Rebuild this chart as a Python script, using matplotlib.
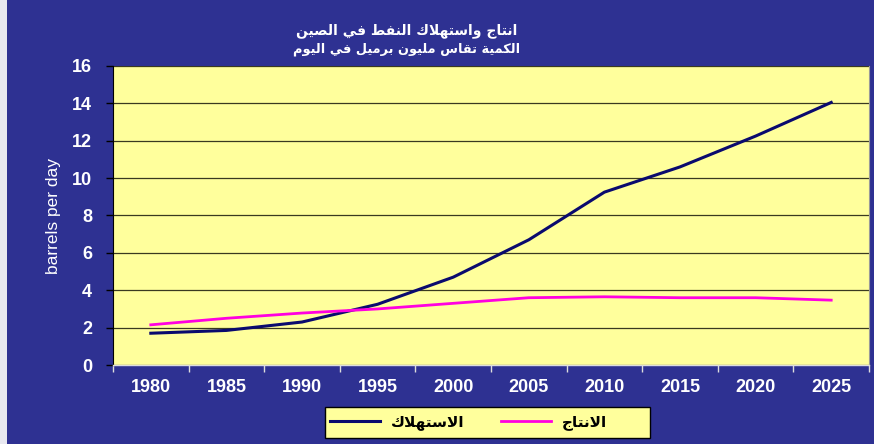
import matplotlib
matplotlib.use('Agg')
import matplotlib.pyplot as plt
from matplotlib.patches import Rectangle

# Data (million barrels per day)
years = ['1980', '1985', '1990', '1995', '2000', '2005', '2010', '2015', '2020', '2025']
consumption = [1.7, 1.85, 2.3, 3.25, 4.7, 6.7, 9.25, 10.6, 12.25, 14.05]
production = [2.15, 2.5, 2.78, 3.0, 3.3, 3.6, 3.65, 3.6, 3.6, 3.47]
y_ticks = [0, 2, 4, 6, 8, 10, 12, 14, 16]

title_line1 = 'انتاج واستهلاك النفط في الصين'
title_line2 = 'الكمية تقاس مليون برميل في اليوم'
label_consumption = 'الاستهلاك'
label_production = 'الانتاج'

BG = '#2E3192'
YELLOW = '#FFFF9C'

# minimal Arabic shaping: (isolated, final, initial, medial)
FORMS = {
    'ا': (0xFE8D, 0xFE8E, None, None),
    'ب': (0xFE8F, 0xFE90, 0xFE91, 0xFE92),
    'ة': (0xFE93, 0xFE94, None, None),
    'ت': (0xFE95, 0xFE96, 0xFE97, 0xFE98),
    'ج': (0xFE9D, 0xFE9E, 0xFE9F, 0xFEA0),
    'ر': (0xFEAD, 0xFEAE, None, None),
    'س': (0xFEB1, 0xFEB2, 0xFEB3, 0xFEB4),
    'ص': (0xFEB9, 0xFEBA, 0xFEBB, 0xFEBC),
    'ط': (0xFEC1, 0xFEC2, 0xFEC3, 0xFEC4),
    'ف': (0xFED1, 0xFED2, 0xFED3, 0xFED4),
    'ق': (0xFED5, 0xFED6, 0xFED7, 0xFED8),
    'ك': (0xFED9, 0xFEDA, 0xFEDB, 0xFEDC),
    'ل': (0xFEDD, 0xFEDE, 0xFEDF, 0xFEE0),
    'م': (0xFEE1, 0xFEE2, 0xFEE3, 0xFEE4),
    'ن': (0xFEE5, 0xFEE6, 0xFEE7, 0xFEE8),
    'ه': (0xFEE9, 0xFEEA, 0xFEEB, 0xFEEC),
    'و': (0xFEED, 0xFEEE, None, None),
    'ي': (0xFEF1, 0xFEF2, 0xFEF3, 0xFEF4),
}


def shape(text):
    out = []
    i = 0
    n = len(text)
    while i < n:
        c = text[i]
        if c not in FORMS:
            out.append(c)
            i += 1
            continue
        prev = text[i - 1] if i > 0 else ''
        joins_prev = prev in FORMS and FORMS[prev][2] is not None
        # lam-alef ligature
        if c == 'ل' and i + 1 < n and text[i + 1] == 'ا':
            out.append(chr(0xFEFC if joins_prev else 0xFEFB))
            i += 2
            continue
        nxt = text[i + 1] if i + 1 < n else ''
        joins_next = FORMS[c][2] is not None and nxt in FORMS
        iso, fin, ini, med = FORMS[c]
        if joins_prev and joins_next:
            code = med
        elif joins_prev:
            code = fin
        elif joins_next:
            code = ini
        else:
            code = iso
        out.append(chr(code))
        i += 1
    return ''.join(out)[::-1]


plt.rcParams['font.family'] = ['Liberation Sans', 'DejaVu Sans']

fig = plt.figure(figsize=(8.74, 4.44), dpi=100, facecolor=BG)
ax = fig.add_axes([113 / 874, 79 / 444, 756 / 874, 299 / 444])
ax.set_facecolor(YELLOW)

x = list(range(len(years)))
ax.plot(x, consumption, color='#0A0A6E', linewidth=2.2, label=shape(label_consumption), zorder=3)
ax.plot(x, production, color='#FF00E0', linewidth=2.0, label=shape(label_production), zorder=3)

ax.set_xlim(-0.5, len(years) - 0.5)
ax.set_ylim(0, 16)
ax.set_yticks(y_ticks)
ax.set_yticklabels([str(v) for v in y_ticks], color='white', fontsize=13, fontweight='bold')
ax.set_xticks([v - 0.5 for v in range(len(years) + 1)])
ax.set_xticklabels([])
ax.set_xticks(x, minor=True)
ax.set_xticklabels(years, minor=True, color='white', fontsize=13, fontweight='bold')
ax.tick_params(axis='x', which='major', length=5, color='#DDDDDD', width=1)
ax.tick_params(axis='x', which='minor', length=0, pad=10)
ax.tick_params(axis='y', length=5, width=1, color='black', pad=10)
ax.yaxis.grid(True, color='#3A3A20', linewidth=0.9)
ax.set_axisbelow(True)

ax.spines['top'].set_visible(False)
ax.spines['right'].set_color('#999999')
ax.spines['left'].set_color('black')
ax.spines['bottom'].set_color('#DDDDDD')
ax.spines['bottom'].set_linewidth(1.0)

ax.set_ylabel('barrels per day', color='white', fontsize=12.5, labelpad=8)

fig.text(407 / 874, 1 - 31 / 444, shape(title_line1), color='white', fontsize=10,
         fontweight='bold', ha='center', va='center', family='DejaVu Sans')
fig.text(407 / 874, 1 - 49 / 444, shape(title_line2), color='white', fontsize=9.3,
         fontweight='bold', ha='center', va='center', family='DejaVu Sans')

# legend box drawn by hand (wider on the right, as in the original)
fig.patches.append(Rectangle((325 / 874, 6 / 444), 325 / 874, 31 / 444, transform=fig.transFigure,
                             facecolor=YELLOW, edgecolor='black', linewidth=1.0))
leg = fig.legend(loc='center left', bbox_to_anchor=(328 / 874, 21.5 / 444), ncol=2,
                 frameon=False, borderaxespad=0, borderpad=0.1, handlelength=3.3,
                 handletextpad=0.7, columnspacing=2.4,
                 prop={'family': 'DejaVu Sans', 'weight': 'bold', 'size': 11})

# light outer strip on the left edge
fig.patches.append(Rectangle((0, 0), 7 / 874, 1, transform=fig.transFigure,
                             facecolor='#E8E8F0', edgecolor='none'))

fig.savefig('out.png', dpi=100, facecolor=BG)
